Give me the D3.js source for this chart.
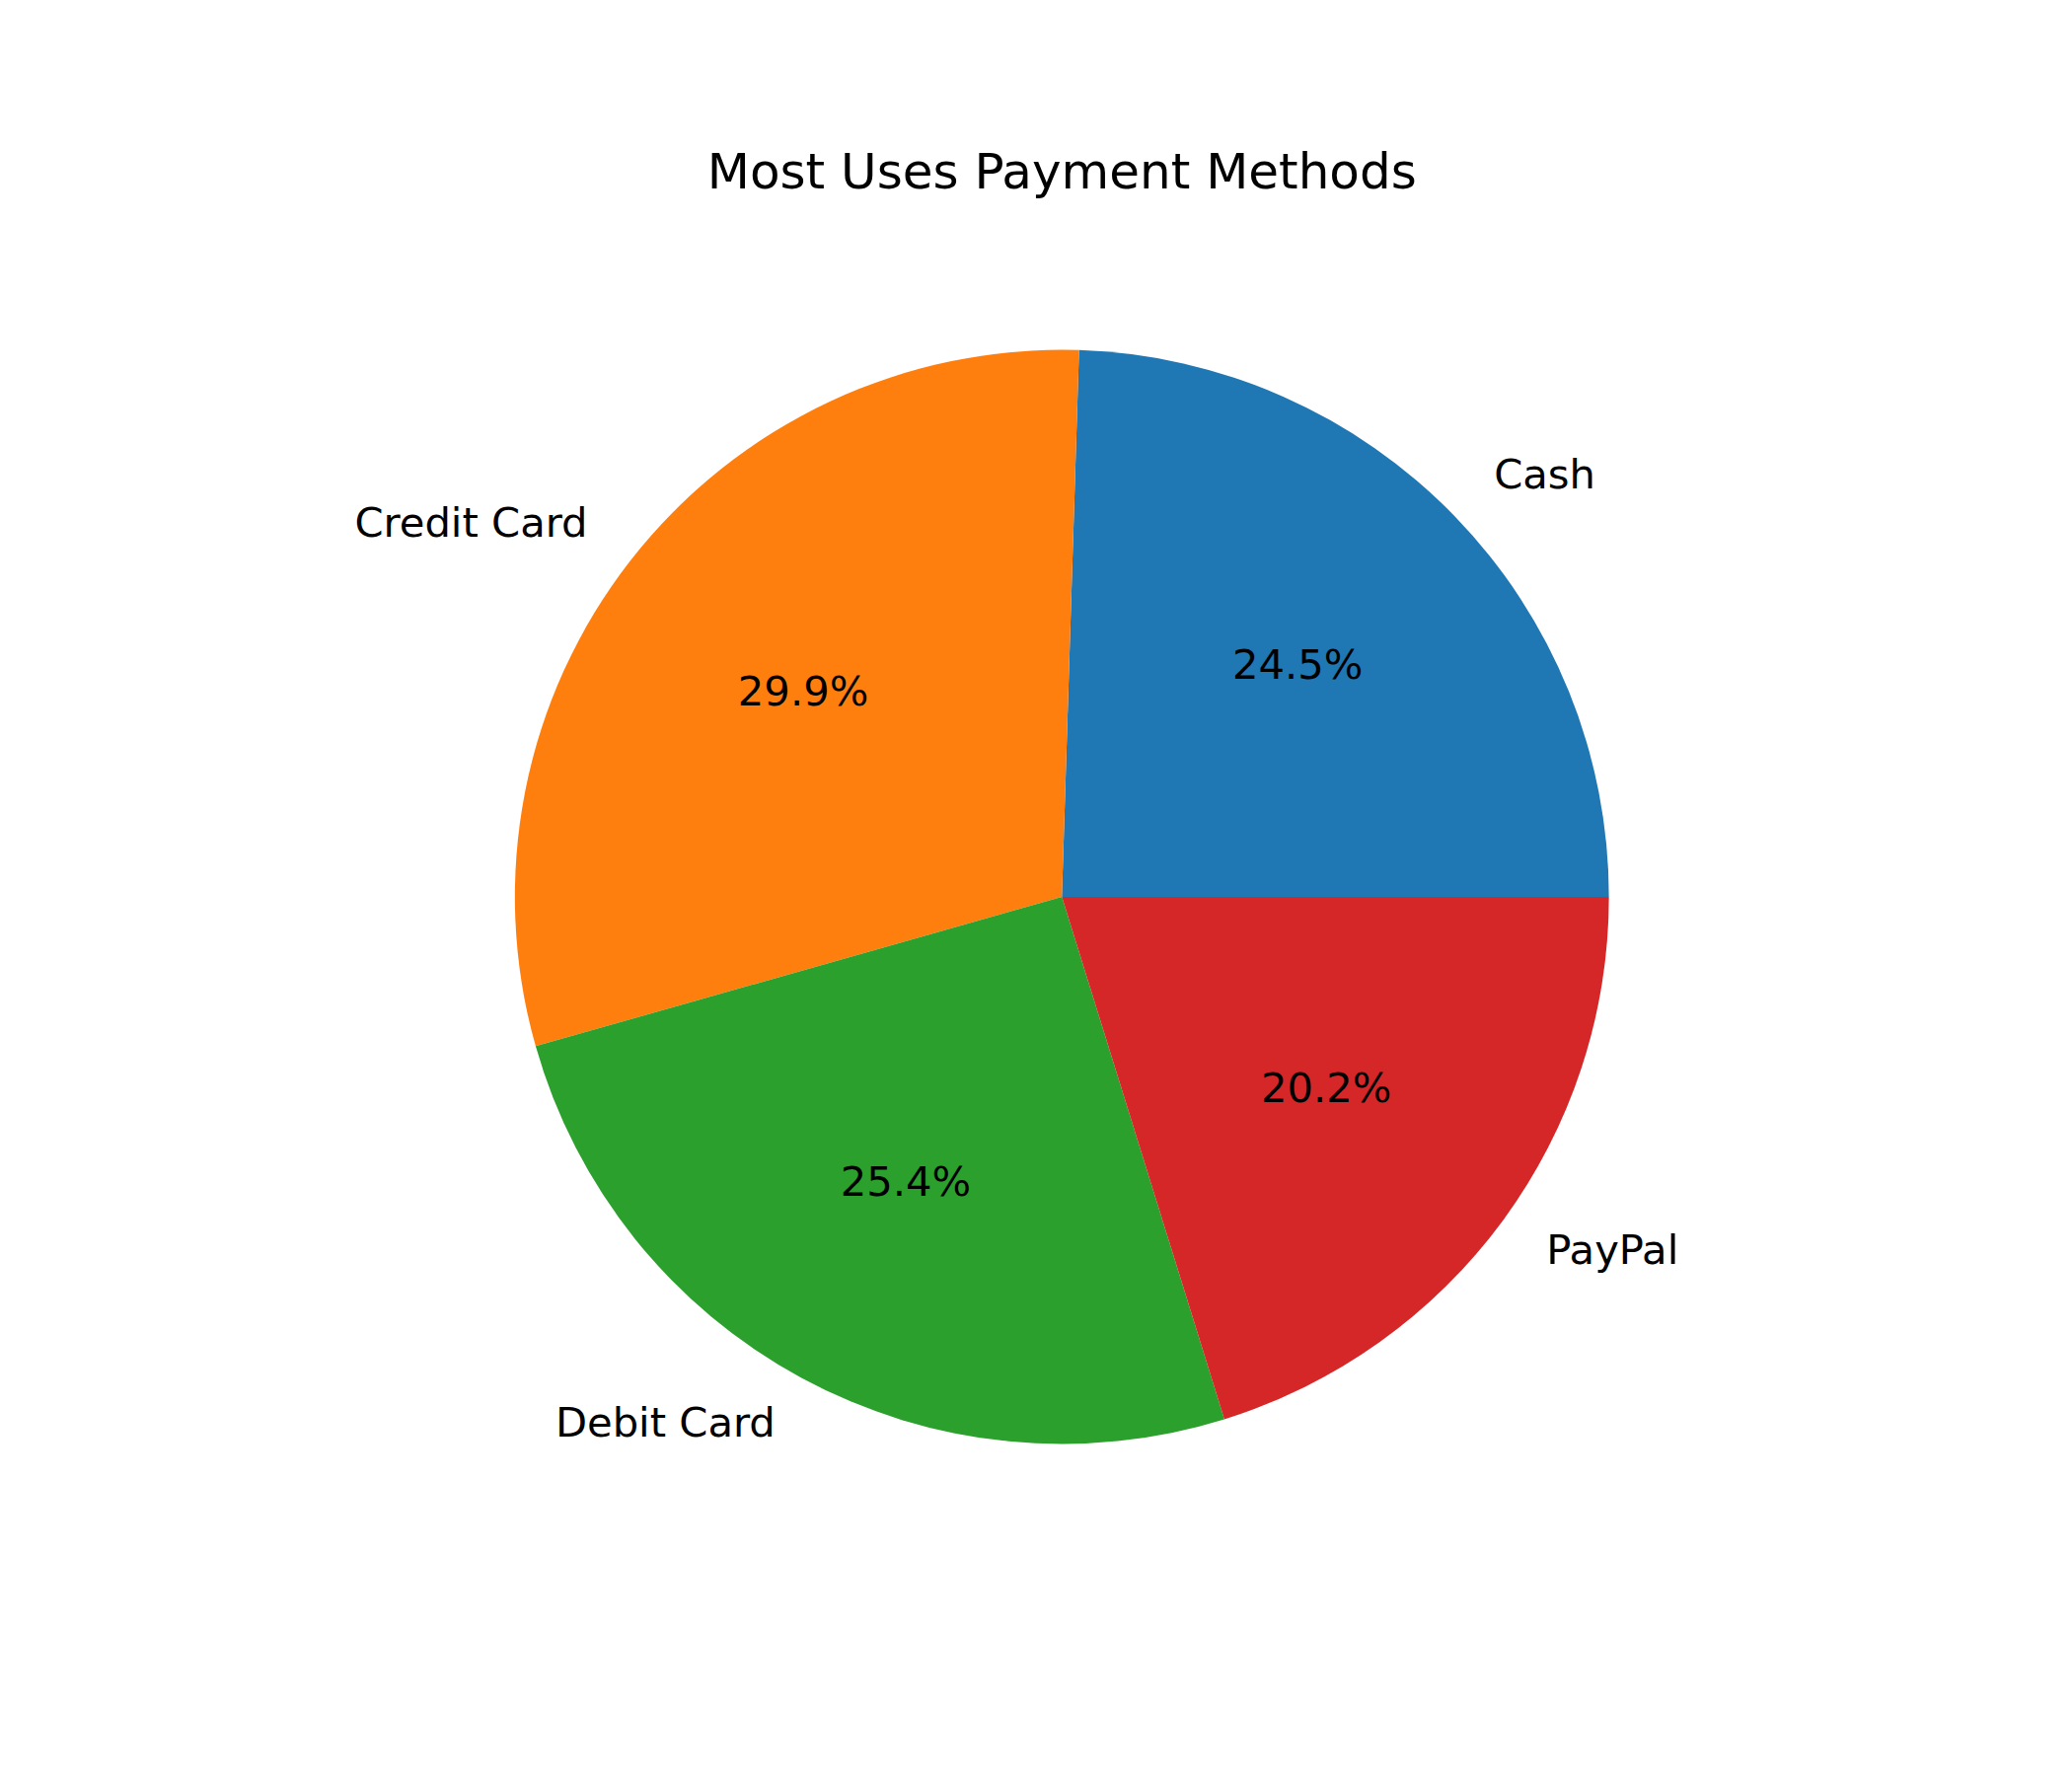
<!DOCTYPE html>
<html><head><meta charset="utf-8">
<script src="https://cdn.jsdelivr.net/npm/d3@7"></script>
<style>body{margin:0;background:#fff}svg{display:block}</style>
</head><body>
<script>
const categories = ["Cash", "Credit Card", "Debit Card", "PayPal"];
const values = [24.5, 29.9, 25.4, 20.2];
const colors = ["#1f77b4", "#ff7f0e", "#2ca02c", "#d62728"];
const title = "Most Uses Payment Methods";

const W = 2100, H = 1800;
const cx = 1076.25, cy = 909, R = 554.4;
const font = "'DejaVu Sans', sans-serif";
const yAdj = -4;

const svg = d3.select("body").append("svg").attr("width", W).attr("height", H);
svg.append("rect").attr("width", W).attr("height", H).attr("fill", "#fff");

const pie = d3.pie().sort(null).value(d => d)
  .startAngle(Math.PI / 2).endAngle(Math.PI / 2 - 2 * Math.PI);
const arcs = pie(values);
const arc = d3.arc().innerRadius(0).outerRadius(R);

const g = svg.append("g").attr("transform", `translate(${cx},${cy})`);
g.selectAll("path.slice").data(arcs).enter().append("path")
  .attr("class", "slice")
  .attr("d", arc)
  .attr("fill", (d, i) => colors[i]);

const total = d3.sum(values);
function pos(d, f) {
  const a = (d.startAngle + d.endAngle) / 2;
  return [f * R * Math.sin(a), -f * R * Math.cos(a)];
}
g.selectAll("text.lab").data(arcs).enter().append("text")
  .attr("class", "lab")
  .attr("x", d => pos(d, 1.1)[0])
  .attr("y", d => pos(d, 1.1)[1] + yAdj)
  .attr("text-anchor", d => pos(d, 1.1)[0] > 0 ? "start" : "end")
  .attr("dominant-baseline", "central")
  .attr("font-family", font).attr("font-size", 41.7).attr("fill", "#000")
  .text((d, i) => categories[i]);
g.selectAll("text.pct").data(arcs).enter().append("text")
  .attr("class", "pct")
  .attr("x", d => pos(d, 0.6)[0])
  .attr("y", d => pos(d, 0.6)[1] + yAdj)
  .attr("text-anchor", "middle")
  .attr("dominant-baseline", "central")
  .attr("font-family", font).attr("font-size", 41.7).attr("fill", "#000")
  .text(d => (d.value / total * 100).toFixed(1) + "%");

svg.append("text").attr("x", cx).attr("y", 191)
  .attr("text-anchor", "middle")
  .attr("font-family", font).attr("font-size", 50).attr("fill", "#000")
  .text(title);
</script>
</body></html>
